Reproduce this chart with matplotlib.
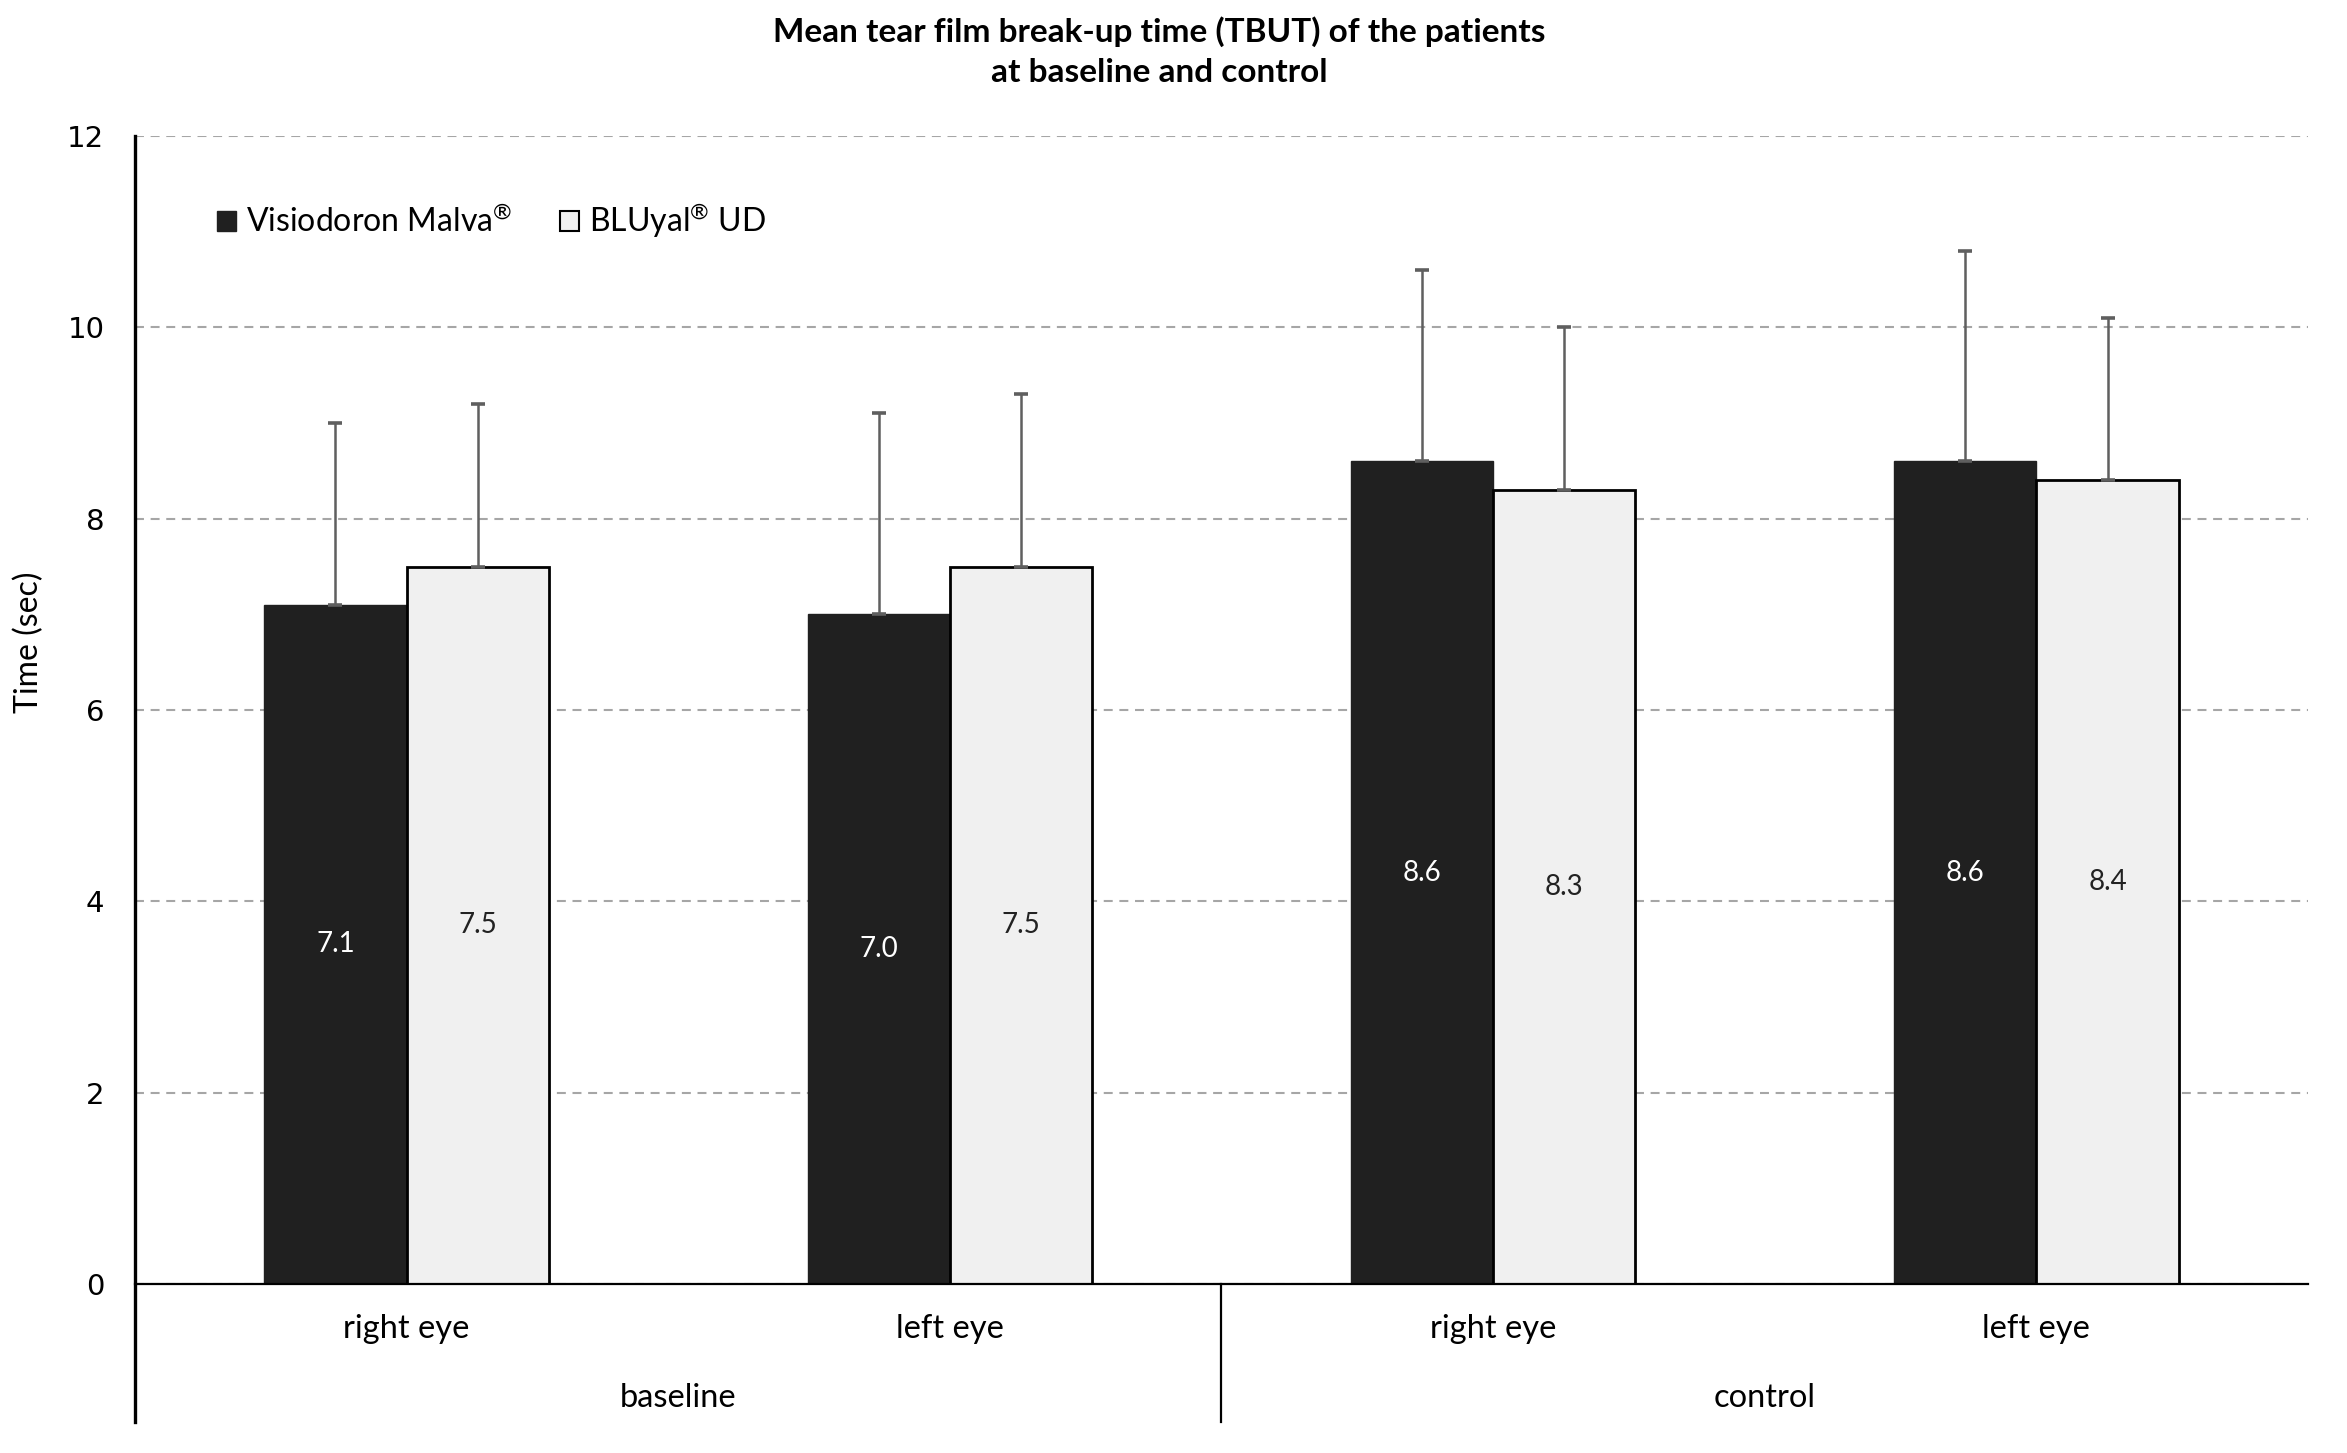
import matplotlib
matplotlib.use("Agg")
import matplotlib.pyplot as plt
from matplotlib.patches import Patch
import matplotlib.transforms as mtrans
import numpy as np

plt.rcParams["mathtext.fontset"] = "custom"
plt.rcParams["mathtext.rm"] = "Lato"
plt.rcParams["mathtext.it"] = "Lato:italic"
plt.rcParams["mathtext.bf"] = "Lato:bold"

# ---- data ----
eyes = ["right eye", "left eye", "right eye", "left eye"]
phases = ["baseline", "control"]
series_names = [r"Visiodoron Malva$^{\mathrm{®}}$", r"BLUyal$^{\mathrm{®}}$ UD"]
visiodoron_mean = [7.1, 7.0, 8.6, 8.6]
visiodoron_sd = [1.9, 2.1, 2.0, 2.2]
bluyal_mean = [7.5, 7.5, 8.3, 8.4]
bluyal_sd = [1.7, 1.8, 1.7, 1.7]
yticks = [0, 2, 4, 6, 8, 10, 12]

TXT = "Lato"
NUM = "DejaVu Sans"

fig = plt.figure(figsize=(23.47, 14.53), dpi=100)
ax = fig.add_axes([0.0575, 0.1163, 0.9259, 0.7901])

x = np.arange(len(eyes))
w = 0.262
err_kw = dict(ecolor="#5f5f5f", elinewidth=1.8, capsize=5, capthick=2.6)
ax.bar(x - w / 2, visiodoron_mean, w, color="#202020", edgecolor="#202020",
       yerr=[np.zeros(4), visiodoron_sd], error_kw=err_kw, zorder=3)
ax.bar(x + w / 2, bluyal_mean, w, color="#f0f0f0", edgecolor="black", linewidth=2,
       yerr=[np.zeros(4), bluyal_sd], error_kw=err_kw, zorder=3)

for xi, v in zip(x - w / 2, visiodoron_mean):
    ax.text(xi, v / 2, f"{v:.1f}", ha="center", va="center", color="white",
            fontsize=20, family=TXT, zorder=5)
for xi, v in zip(x + w / 2, bluyal_mean):
    ax.text(xi, v / 2, f"{v:.1f}", ha="center", va="center", color="#222222",
            fontsize=20, family=TXT, zorder=5)

ax.set_xlim(-0.5, 3.5)
ax.set_ylim(0, 12)
ax.set_yticks(yticks)
ax.set_yticklabels([str(t) for t in yticks], fontsize=21, family=NUM)
ax.tick_params(axis="y", length=0, pad=22)
ax.set_xticks([])
for s in ["top", "right", "left"]:
    ax.spines[s].set_visible(False)
ax.spines["bottom"].set_linewidth(1.6)
ax.spines["bottom"].set_zorder(4)
ax.yaxis.grid(True, color="#a6a6a6", linewidth=1.5, linestyle=(0, (4.3, 3.2)), zorder=0)
ax.set_axisbelow(True)

bt = mtrans.blended_transform_factory(ax.transData, ax.transAxes)
# left axis line extended down, and group divider
ax.plot([-0.5, -0.5], [-0.12, 1], transform=bt, color="black", linewidth=2.4, clip_on=False, zorder=6)
ax.plot([1.5, 1.5], [-0.12, 0], transform=bt, color="black", linewidth=1.6, clip_on=False, zorder=6)

for xi, lab in zip(x, eyes):
    ax.text(xi, -0.039, lab, transform=bt, ha="center", va="center", fontsize=23.5, family=TXT)
for xi, lab in zip([0.5, 2.5], phases):
    ax.text(xi, -0.099, lab, transform=bt, ha="center", va="center", fontsize=23.5, family=TXT)

ax.set_ylabel("Time (sec)", fontsize=23, family=TXT)
ax.yaxis.set_label_coords(-0.042, 0.559)

handles = [Patch(facecolor="#202020", edgecolor="#202020"),
           Patch(facecolor="#f0f0f0", edgecolor="black", linewidth=1.5)]
ax.legend(handles, series_names, loc="upper left", bbox_to_anchor=(0.0245, 0.968), ncol=2,
          frameon=False, prop={"family": TXT, "size": 23}, handlelength=0.6, handleheight=0.6,
          handletextpad=0.3, columnspacing=1.5)

fig.text(0.494, 0.9885, "Mean tear film break-up time (TBUT) of the patients\nat baseline and control",
         ha="center", va="top", fontsize=24, fontweight="bold", family=TXT, linespacing=1.45)

fig.savefig("out.png", dpi=100)
